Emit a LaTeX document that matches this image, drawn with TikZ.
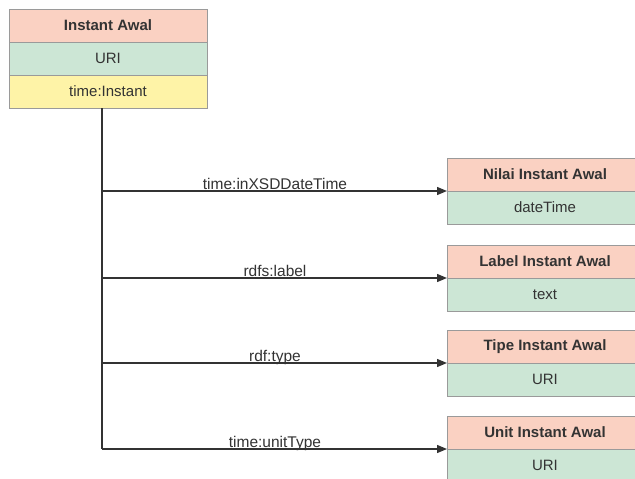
\documentclass[tikz,border=0pt]{standalone}
\usepackage{fontspec}
\setmainfont{Liberation Sans}
\usetikzlibrary{arrows.meta}
\definecolor{hdr}{HTML}{FAD1C2}
\definecolor{grn}{HTML}{CCE6D5}
\definecolor{ylw}{HTML}{FEF3A7}
\definecolor{brd}{HTML}{9A9A9A}
\definecolor{txt}{HTML}{333333}
\tikzset{
  cell/.style={draw=brd, line width=0.8pt, text=txt, font=\fontsize{15}{18}\selectfont},
  hdrcell/.style={cell, fill=hdr, font=\fontsize{15}{18}\selectfont\bfseries},
  grncell/.style={cell, fill=grn},
  ylwcell/.style={cell, fill=ylw},
  conn/.style={draw=black!80, line width=1.3pt},
  arr/.style={conn, -{Triangle[length=10pt,width=8pt]}},
  elabel/.style={text=txt, font=\fontsize{15.5}{18}\selectfont, inner sep=0pt, anchor=base}
}
\begin{document}
\begin{tikzpicture}[x=1pt,y=-1pt]
\clip (0,0) rectangle (635,479);
\fill[white] (0,0) rectangle (635,479);
% main box
\path[hdrcell] (9,9) rectangle (207,42);
\node[text=txt, font=\fontsize{15}{18}\selectfont\bfseries] (ia) at (108,25.5) {Instant Awal};
\path[grncell] (9,42) rectangle (207,75);
\node[text=txt, font=\fontsize{15}{18}\selectfont] (iauri) at (108,58.5) {URI};
\path[ylwcell] (9,75) rectangle (207,108);
\node[text=txt, font=\fontsize{15}{18}\selectfont] (iatype) at (108,91.5) {time:Instant};
\coordinate (top) at (102,108);
\coordinate (bot) at (102,449);
% right boxes
\foreach \y/\name/\title/\val in {158/n/Nilai Instant Awal/dateTime, 245/l/Label Instant Awal/text, 330/t/Tipe Instant Awal/URI, 416/u/Unit Instant Awal/URI}{
  \path[hdrcell] (447,\y) rectangle (650,\y+33);
  \node[text=txt, font=\fontsize{15}{18}\selectfont\bfseries] (\name h) at (545,\y+16.5) {\title};
  \path[grncell] (447,\y+33) rectangle (650,\y+66);
  \node[text=txt, font=\fontsize{15}{18}\selectfont] (\name v) at (545,\y+49.5) {\val};
  \coordinate (\name in) at (447,\y+33);
  \coordinate (\name src) at (102,\y+33);
}
\draw[conn] (top) -- (bot);
\draw[arr] (nsrc) -- (nin);
\draw[arr] (lsrc) -- (lin);
\draw[arr] (tsrc) -- (tin);
\draw[arr] (usrc) -- (uin);
\node[elabel] (e1) at (275,189) {time:inXSDDateTime};
\node[elabel] (e2) at (275,276) {rdfs:label};
\node[elabel] (e3) at (275,361) {rdf:type};
\node[elabel] (e4) at (275,447) {time:unitType};
\end{tikzpicture}
\end{document}
